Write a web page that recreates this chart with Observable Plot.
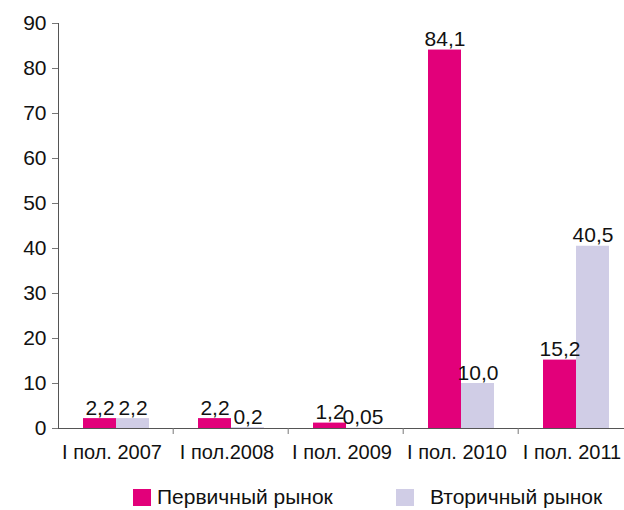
<!DOCTYPE html>
<html>
<head>
<meta charset="utf-8">
<script src="https://cdn.jsdelivr.net/npm/d3@7"></script>
<script src="https://cdn.jsdelivr.net/npm/@observablehq/plot@0.6"></script>
<style>
  body { margin: 0; background: #fff; font-family: "Liberation Sans", Arial, sans-serif; }
  #legend { position: relative; width: 624px; height: 40px; font-size: 21px; color: #111; }
  .item { position: absolute; top: 15px; display: flex; align-items: center; white-space: nowrap; }
  .sw { width: 18px; height: 17px; display: inline-block; margin-right: 6px; }
</style>
</head>
<body>
<div id="chart"></div>
<div id="legend"></div>
<script>
const categories = ["I пол. 2007", "I пол.2008", "I пол. 2009", "I пол. 2010", "I пол. 2011"];
const series = ["Первичный рынок", "Вторичный рынок"];
const primary = [2.2, 2.2, 1.2, 84.1, 15.2];
const secondary = [2.2, 0.2, 0.05, 10.0, 40.5];
const primaryLabels = ["2,2", "2,2", "1,2", "84,1", "15,2"];
const secondaryLabels = ["2,2", "0,2", "0,05", "10,0", "40,5"];
const yTicks = [0, 10, 20, 30, 40, 50, 60, 70, 80, 90];
const colors = ["#E2007A", "#D0CDE6"];

const rows = [];
categories.forEach((c, i) => {
  rows.push({cat: c, series: series[0], value: primary[i], label: primaryLabels[i]});
  rows.push({cat: c, series: series[1], value: secondary[i], label: secondaryLabels[i]});
});

const W = 624, ML = 56, MR = -10;
const step = (W - MR - ML) / categories.length;
const lineColor = "#555";
const tickColor = "#777";

const chart = Plot.plot({
  width: W,
  height: 470,
  marginLeft: ML,
  marginRight: MR,
  marginTop: 23,
  marginBottom: 42,
  style: {fontFamily: "'Liberation Sans', Arial, sans-serif", fontSize: "21px", color: "#111", background: "#fff"},
  fx: {domain: categories, paddingInner: 0, paddingOuter: 0, label: null},
  x: {domain: series, paddingInner: 0, paddingOuter: 0.7, axis: null},
  y: {domain: [0, 90], axis: null},
  color: {domain: series, range: colors},
  marks: [
    Plot.barY(rows, {fx: "cat", x: "series", y: "value", fill: "series"}),
    Plot.text(rows, {fx: "cat", x: "series", y: "value", text: "label", lineAnchor: "bottom", dy: -4, fill: "#111"}),
    Plot.frame({anchor: "left", facetAnchor: "left", stroke: lineColor}),
    Plot.ruleY([0], {stroke: lineColor}),
    Plot.axisY({ticks: yTicks, tickSize: 6, tickPadding: 6, stroke: tickColor, fill: "#111", label: null}),
    Plot.axisFx({anchor: "bottom", ticks: categories.slice(1), tickSize: 6, tickFormat: () => "", dx: -step / 2, stroke: tickColor, label: null}),
    Plot.axisFx({anchor: "bottom", tickSize: 0, tickPadding: 16, dx: -4, fontSize: 20, fill: "#111", label: null})
  ]
});
document.getElementById("chart").appendChild(chart);

const legend = document.getElementById("legend");
const legendX = [133, 396];
series.forEach((s, i) => {
  const it = document.createElement("div");
  it.className = "item";
  it.style.left = legendX[i] + "px";
  const sw = document.createElement("span");
  sw.className = "sw";
  sw.style.background = colors[i];
  if (i === 1) sw.style.marginRight = "16px";
  it.appendChild(sw);
  it.appendChild(document.createTextNode(s));
  legend.appendChild(it);
});
</script>
</body>
</html>
